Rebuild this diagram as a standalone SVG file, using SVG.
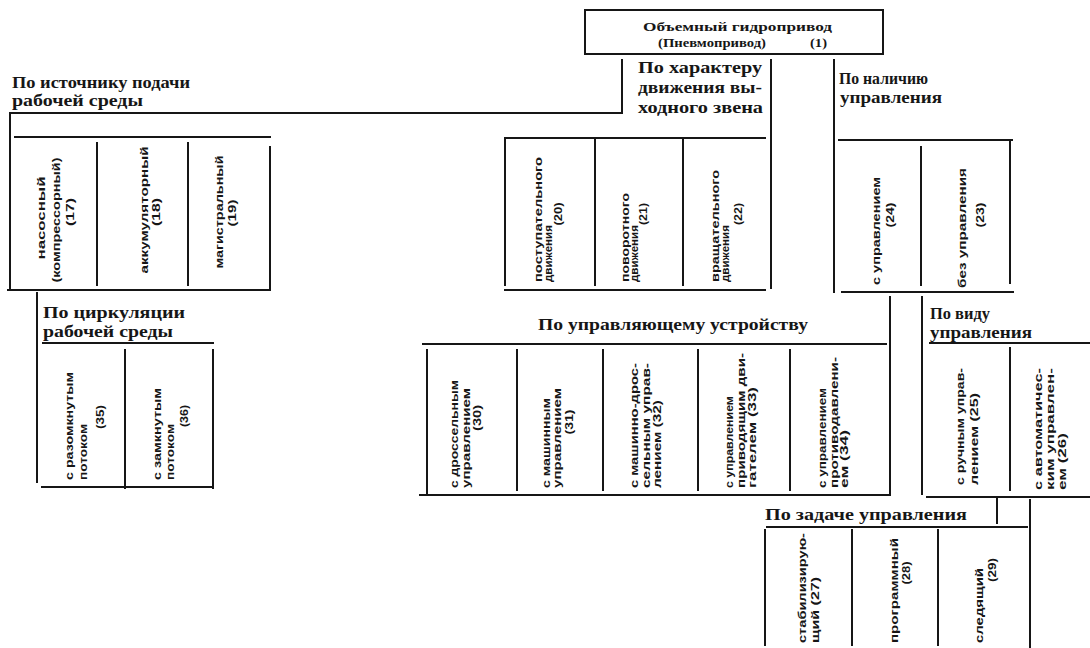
<svg xmlns="http://www.w3.org/2000/svg" width="1090" height="648" viewBox="0 0 1090 648">
<style>
.ln{stroke:#161616;stroke-width:2;fill:none;stroke-linecap:square}
.h{font-family:"Liberation Serif","DejaVu Serif",serif;font-weight:bold;font-size:17px;fill:#161616}
.t{font-family:"Liberation Serif","DejaVu Serif",serif;font-weight:bold;font-size:13px;fill:#161616}
.v{font-family:"Liberation Sans","DejaVu Sans",sans-serif;font-weight:bold;font-size:11px;fill:#161616}
.m{text-anchor:middle}
</style>
<rect width="1090" height="648" fill="#fff"/>

<g id="connectors">
<path class="ln" d="M622 60V113M10 113H620M10 113V288"/>
<path class="ln" d="M771 60V288"/>
<path class="ln" d="M834 60V292"/>
<path class="ln" d="M37 293V482"/>
<path class="ln" d="M890 297V495"/>
<path class="ln" d="M922 297V494"/>
<path class="ln" d="M997 498V523"/>
<path class="ln" d="M1030 500V648"/>
</g>

<g id="root">
<rect class="ln" x="585" y="10" width="298" height="44"/>
<text class="t" x="643" y="31" textLength="189" lengthAdjust="spacingAndGlyphs">Объемный гидропривод</text>
<text class="t" x="658" y="47" textLength="108" lengthAdjust="spacingAndGlyphs">(Пневмопривод)</text>
<text class="t" x="810" y="47" textLength="17" lengthAdjust="spacingAndGlyphs">(1)</text>
</g>

<g id="by-source">
<text class="h" x="12" y="88" textLength="178" lengthAdjust="spacingAndGlyphs">По источнику подачи</text>
<text class="h" x="12" y="106" textLength="131" lengthAdjust="spacingAndGlyphs">рабочей среды</text>
<path class="ln" d="M15 137H270M270 147V290M97 143V285M188 143V285M8 290H270"/>
<text class="v m" transform="translate(45,218) rotate(-90)" textLength="83" lengthAdjust="spacingAndGlyphs">насосный</text>
<text class="v m" transform="translate(60,220) rotate(-90)" textLength="125" lengthAdjust="spacingAndGlyphs">(компрессорный)</text>
<text class="v m" transform="translate(74,212) rotate(-90)" textLength="28" lengthAdjust="spacingAndGlyphs">(17)</text>
<text class="v m" transform="translate(148,210) rotate(-90)" textLength="127" lengthAdjust="spacingAndGlyphs">аккумуляторный</text>
<text class="v m" transform="translate(160,212) rotate(-90)" textLength="28" lengthAdjust="spacingAndGlyphs">(18)</text>
<text class="v m" transform="translate(223,212) rotate(-90)" textLength="113" lengthAdjust="spacingAndGlyphs">магистральный</text>
<text class="v m" transform="translate(236,213) rotate(-90)" textLength="27" lengthAdjust="spacingAndGlyphs">(19)</text>
</g>

<g id="by-motion">
<text class="h" x="638" y="73" textLength="124" lengthAdjust="spacingAndGlyphs">По характеру</text>
<text class="h" x="638" y="93" textLength="124" lengthAdjust="spacingAndGlyphs">движения вы-</text>
<text class="h" x="638" y="113" textLength="125" lengthAdjust="spacingAndGlyphs">ходного звена</text>
<path class="ln" d="M505 138H765M505 138V285M595 140V285M683 140V285M505 290H765"/>
<text class="v" transform="translate(542,282) rotate(-90)" textLength="125" lengthAdjust="spacingAndGlyphs">поступательного</text>
<text class="v" transform="translate(552,282) rotate(-90)" textLength="57" lengthAdjust="spacingAndGlyphs">движения</text>
<text class="v m" transform="translate(562,214) rotate(-90)" textLength="23" lengthAdjust="spacingAndGlyphs">(20)</text>
<text class="v" transform="translate(629,282) rotate(-90)" textLength="89" lengthAdjust="spacingAndGlyphs">поворотного</text>
<text class="v" transform="translate(638,282) rotate(-90)" textLength="57" lengthAdjust="spacingAndGlyphs">движения</text>
<text class="v m" transform="translate(647,214) rotate(-90)" textLength="22" lengthAdjust="spacingAndGlyphs">(21)</text>
<text class="v" transform="translate(719,282) rotate(-90)" textLength="112" lengthAdjust="spacingAndGlyphs">вращательного</text>
<text class="v" transform="translate(729,282) rotate(-90)" textLength="57" lengthAdjust="spacingAndGlyphs">движения</text>
<text class="v m" transform="translate(742,214) rotate(-90)" textLength="22" lengthAdjust="spacingAndGlyphs">(22)</text>
</g>

<g id="by-control-presence">
<text class="h" x="839" y="84" textLength="89" lengthAdjust="spacingAndGlyphs">По наличию</text>
<text class="h" x="840" y="103" textLength="102" lengthAdjust="spacingAndGlyphs">управления</text>
<path class="ln" d="M839 140H1012M1010 140V283M921 147V285M842 292H1013"/>
<text class="v" transform="translate(880,285) rotate(-90)" textLength="108" lengthAdjust="spacingAndGlyphs">с управлением</text>
<text class="v m" transform="translate(894,215) rotate(-90)" textLength="25" lengthAdjust="spacingAndGlyphs">(24)</text>
<text class="v" transform="translate(966,288) rotate(-90)" textLength="120" lengthAdjust="spacingAndGlyphs">без управления</text>
<text class="v m" transform="translate(984,215) rotate(-90)" textLength="25" lengthAdjust="spacingAndGlyphs">(23)</text>
</g>

<g id="by-circulation">
<text class="h" x="43" y="318" textLength="142" lengthAdjust="spacingAndGlyphs">По циркуляции</text>
<text class="h" x="43" y="337" textLength="130" lengthAdjust="spacingAndGlyphs">рабочей среды</text>
<path class="ln" d="M43 343H213M125 350V488M213 350V488M42 487H212"/>
<text class="v" transform="translate(73,480) rotate(-90)" textLength="108" lengthAdjust="spacingAndGlyphs">с разомкнутым</text>
<text class="v" transform="translate(87,480) rotate(-90)" textLength="56" lengthAdjust="spacingAndGlyphs">потоком</text>
<text class="v m" transform="translate(104,417) rotate(-90)" textLength="24" lengthAdjust="spacingAndGlyphs">(35)</text>
<text class="v" transform="translate(161,480) rotate(-90)" textLength="92" lengthAdjust="spacingAndGlyphs">с замкнутым</text>
<text class="v" transform="translate(174,480) rotate(-90)" textLength="56" lengthAdjust="spacingAndGlyphs">потоком</text>
<text class="v m" transform="translate(188,416) rotate(-90)" textLength="22" lengthAdjust="spacingAndGlyphs">(36)</text>
</g>

<g id="by-control-device">
<text class="h" x="538" y="330" textLength="270" lengthAdjust="spacingAndGlyphs">По управляющему устройству</text>
<path class="ln" d="M423 344H886M427 350V493M517 350V490M603 350V490M698 350V490M790 350V490M420 495H888"/>
<text class="v" transform="translate(458,488) rotate(-90)" textLength="108" lengthAdjust="spacingAndGlyphs">с дроссельным</text>
<text class="v" transform="translate(470,488) rotate(-90)" textLength="100" lengthAdjust="spacingAndGlyphs">управлением</text>
<text class="v m" transform="translate(481,418) rotate(-90)" textLength="26" lengthAdjust="spacingAndGlyphs">(30)</text>
<text class="v" transform="translate(550,488) rotate(-90)" textLength="90" lengthAdjust="spacingAndGlyphs">с машинным</text>
<text class="v" transform="translate(561,488) rotate(-90)" textLength="100" lengthAdjust="spacingAndGlyphs">управлением</text>
<text class="v m" transform="translate(573,422) rotate(-90)" textLength="25" lengthAdjust="spacingAndGlyphs">(31)</text>
<text class="v" transform="translate(638,488) rotate(-90)" textLength="125" lengthAdjust="spacingAndGlyphs">с машинно-дрос-</text>
<text class="v" transform="translate(650,488) rotate(-90)" textLength="125" lengthAdjust="spacingAndGlyphs">сельным управ-</text>
<text class="v" transform="translate(661,488) rotate(-90)" textLength="88" lengthAdjust="spacingAndGlyphs">лением (32)</text>
<text class="v" transform="translate(733,488) rotate(-90)" textLength="92" lengthAdjust="spacingAndGlyphs">с управлением</text>
<text class="v" transform="translate(745,488) rotate(-90)" textLength="135" lengthAdjust="spacingAndGlyphs">приводящим дви-</text>
<text class="v" transform="translate(756,488) rotate(-90)" textLength="101" lengthAdjust="spacingAndGlyphs">гателем (33)</text>
<text class="v" transform="translate(826,488) rotate(-90)" textLength="100" lengthAdjust="spacingAndGlyphs">с управлением</text>
<text class="v" transform="translate(838,488) rotate(-90)" textLength="131" lengthAdjust="spacingAndGlyphs">противодавлени-</text>
<text class="v" transform="translate(848,488) rotate(-90)" textLength="58" lengthAdjust="spacingAndGlyphs">ем (34)</text>
</g>

<g id="by-control-type">
<text class="h" x="930" y="319" textLength="60" lengthAdjust="spacingAndGlyphs">По виду</text>
<text class="h" x="930" y="338" textLength="102" lengthAdjust="spacingAndGlyphs">управления</text>
<path class="ln" d="M930 343H1090M1010 348V490M927 497H1090"/>
<text class="v" transform="translate(964,485) rotate(-90)" textLength="117" lengthAdjust="spacingAndGlyphs">с ручным управ-</text>
<text class="v" transform="translate(978,485) rotate(-90)" textLength="92" lengthAdjust="spacingAndGlyphs">лением (25)</text>
<text class="v" transform="translate(1042,490) rotate(-90)" textLength="122" lengthAdjust="spacingAndGlyphs">с автоматичес-</text>
<text class="v" transform="translate(1054,490) rotate(-90)" textLength="122" lengthAdjust="spacingAndGlyphs">ким управлен-</text>
<text class="v" transform="translate(1066,490) rotate(-90)" textLength="57" lengthAdjust="spacingAndGlyphs">ем (26)</text>
</g>

<g id="by-control-task">
<text class="h" x="765" y="520" textLength="202" lengthAdjust="spacingAndGlyphs">По задаче управления</text>
<path class="ln" d="M767 527H1027M765 530V645M852 530V645M938 530V645"/>
<text class="v" transform="translate(806,643) rotate(-90)" textLength="110" lengthAdjust="spacingAndGlyphs">стабилизирую-</text>
<text class="v" transform="translate(819,643) rotate(-90)" textLength="66" lengthAdjust="spacingAndGlyphs">щий (27)</text>
<text class="v" transform="translate(898,643) rotate(-90)" textLength="105" lengthAdjust="spacingAndGlyphs">программный</text>
<text class="v m" transform="translate(910,573) rotate(-90)" textLength="23" lengthAdjust="spacingAndGlyphs">(28)</text>
<text class="v" transform="translate(983,643) rotate(-90)" textLength="75" lengthAdjust="spacingAndGlyphs">следящий</text>
<text class="v m" transform="translate(996,570) rotate(-90)" textLength="24" lengthAdjust="spacingAndGlyphs">(29)</text>
</g>
</svg>
